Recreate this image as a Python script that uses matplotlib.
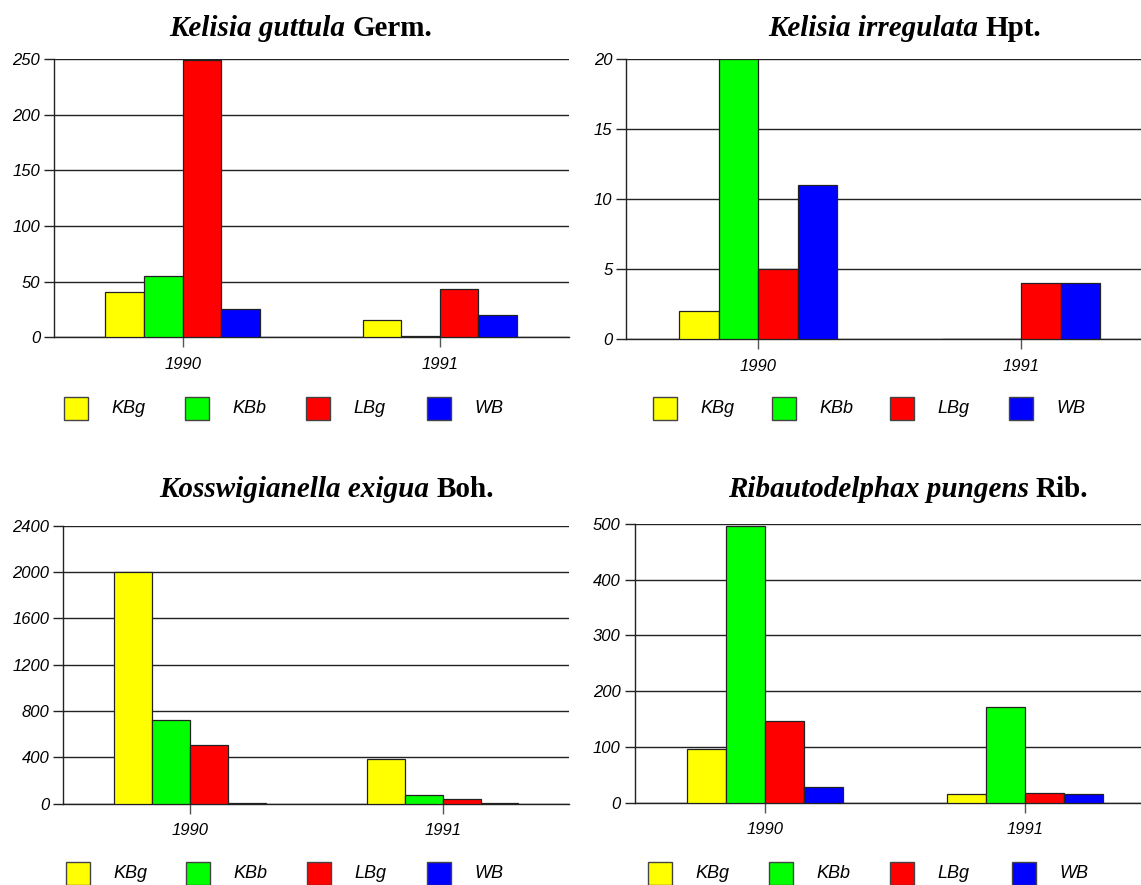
import numpy as np
import matplotlib
matplotlib.use("Agg")
import matplotlib.pyplot as plt
from matplotlib.patches import Rectangle

# chart data
years = ['1990', '1991']
series = ['KBg', 'KBb', 'LBg', 'WB']
colors = ['#FFFF00', '#00FF00', '#FF0000', '#0000FF']

guttula = [[41, 16], [55, 1], [249, 43], [25, 20]]
irregulata = [[2, 0], [20, 0], [5, 4], [11, 4]]
exigua = [[2000, 383], [722, 72], [509, 40], [9, 3]]
pungens = [[97, 15], [497, 172], [147, 17], [29, 16]]

titles = [('Kelisia guttula', 'Germ.'),
          ('Kelisia irregulata', 'Hpt.'),
          ('Kosswigianella exigua', 'Boh.'),
          ('Ribautodelphax pungens', 'Rib.')]
yticks = [np.arange(0, 251, 50), np.arange(0, 21, 5),
          np.arange(0, 2401, 400), np.arange(0, 501, 100)]

W, H = 1141, 885
fig = plt.figure(figsize=(W / 100, H / 100), dpi=100)

# panel boxes in pixels: left, top, right, bottom
boxes = [(54, 59.3, 568.5, 337.3),
         (626.4, 59.3, 1153, 339.3),
         (63.4, 525.7, 569, 803.7),
         (634.6, 524, 1155, 802.7)]
# legend: first square x, step, square top
legends = [(64.3, 121, 396.7), (653, 118.6, 396.7),
           (65.7, 120.5, 862), (647.6, 121.4, 862.3)]
# title centre x, baseline y
title_pos = [(301, 36), (905, 36), (327, 496.5), (908, 496.5)]


def fx(x):
    return x / W


def fy(y):
    return 1 - y / H


renderer = fig.canvas.get_renderer()

for k, data in enumerate([guttula, irregulata, exigua, pungens]):
    l, t, r, b = boxes[k]
    ax = fig.add_axes([fx(l), fy(b), fx(r - l), (b - t) / H])
    x = np.arange(len(years))
    for i, vals in enumerate(data):
        ax.bar(x + (i - 1.5) * 0.15, vals, width=0.15, color=colors[i],
               edgecolor='#222222', linewidth=0.9, zorder=3)
    ax.set_xlim(-0.5, 1.5)
    ax.set_ylim(yticks[k][0], yticks[k][-1])
    ax.set_yticks(yticks[k])
    ax.set_xticks(x)
    ax.set_xticklabels(years)
    for lab in ax.get_xticklabels() + ax.get_yticklabels():
        lab.set_fontfamily('Liberation Sans')
        lab.set_fontstyle('italic')
        lab.set_fontsize(12)
    ax.yaxis.grid(True, color='#222222', linewidth=1)
    ax.set_axisbelow(True)
    for s in ['top', 'right']:
        ax.spines[s].set_visible(False)
    ax.spines['left'].set_linewidth(1)
    ax.spines['bottom'].set_linewidth(1)
    ax.spines['left'].set_color('#222222')
    ax.spines['bottom'].set_color('#222222')
    ax.tick_params(axis='y', direction='out', length=7, width=1, pad=3,
                   color='#222222')
    ax.tick_params(axis='x', direction='out', length=7, width=1, pad=7,
                   color='#555555')

    # legend drawn by hand so the items are evenly spaced
    x0, step, top = legends[k]
    for i, name in enumerate(series):
        sx = x0 + i * step
        fig.patches.append(Rectangle((fx(sx), fy(top + 23)), fx(24), 23 / H,
                                     facecolor=colors[i], edgecolor='#444444',
                                     linewidth=1, transform=fig.transFigure))
        fig.text(fx(sx + 47.5), fy(top + 11.5), name, va='center', ha='left',
                 family='Liberation Sans', style='italic', size=13)

    # title: italic bold species + bold authority
    sp, auth = titles[k]
    cx, cy = title_pos[k]
    t1 = fig.text(0, 0, sp + ' ', family='Liberation Serif', weight='bold',
                  style='italic', size=21, va='baseline')
    t2 = fig.text(0, 0, auth, family='Liberation Serif', weight='bold',
                  size=21, va='baseline')
    w1 = t1.get_window_extent(renderer).width
    w2 = t2.get_window_extent(renderer).width
    start = cx - (w1 + w2) / 2
    t1.set_position((fx(start), fy(cy)))
    t2.set_position((fx(start + w1), fy(cy)))

fig.savefig('out.png', dpi=100)
